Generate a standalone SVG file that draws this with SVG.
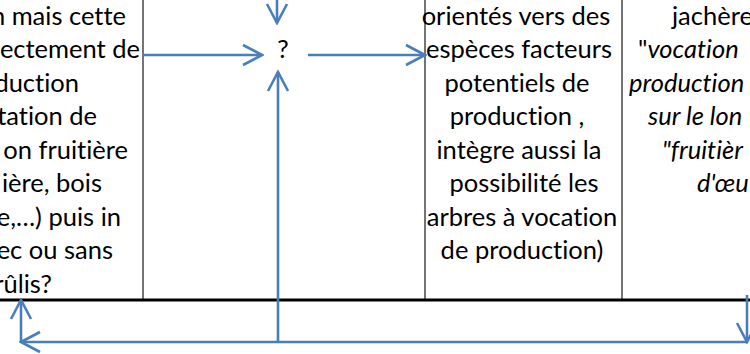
<svg xmlns="http://www.w3.org/2000/svg" width="750" height="354" viewBox="0 0 750 354">
<style>
.t{font-family:Lato,"Liberation Sans",sans-serif;font-size:25.5px;fill:#000;font-variant-ligatures:none;font-feature-settings:"liga" 0}
.i{font-style:italic}
.grid{stroke:#3a3a3a;stroke-width:1.4;fill:none}
.base{stroke:#000;stroke-width:2.8;fill:none}
.c{stroke:#4A7EBB;stroke-width:2.6;fill:none}
</style>
<defs>
<marker id="ah" viewBox="-22 -12 24 24" markerWidth="24" markerHeight="24" refX="0" refY="0" orient="auto" markerUnits="userSpaceOnUse">
<path d="M-19,-10 L0,0 L-19,10" fill="none" stroke="#4A7EBB" stroke-width="2.6"/>
</marker>
</defs>
<rect width="750" height="354" fill="#fff"/>
<g id="table">
<line class="grid" x1="143" y1="0" x2="143" y2="300"/>
<line class="grid" x1="425" y1="0" x2="425" y2="300"/>
<line class="grid" x1="622" y1="0" x2="622" y2="300"/>
<line class="base" x1="0" y1="300" x2="750" y2="300"/>
</g>
<g id="cell-left" class="t" text-anchor="end">
<text x="126" y="25">n mais cette</text>
<text x="140" y="58">ectement de</text>
<text x="79" y="92">duction</text>
<text x="97" y="125">tation de</text>
<text x="128" y="159">on fruitière</text>
<text x="102" y="192">ière, bois</text>
<text x="121" y="226">e,…) puis in</text>
<text x="113" y="259">ec ou sans</text>
<text x="52" y="293">rûlis?</text>
</g>
<g id="node-question">
<text class="t" x="283" y="58" text-anchor="middle">?</text>
</g>
<g id="cell-middle" class="t" text-anchor="middle">
<text x="516" y="25">orientés vers des</text>
<text x="519" y="58">espèces facteurs</text>
<text x="517" y="92">potentiels de</text>
<text x="517" y="125">production ,</text>
<text x="519" y="159">intègre aussi la</text>
<text x="524" y="192">possibilité les</text>
<text x="522" y="226">arbres à vocation</text>
<text x="522" y="259">de production)</text>
</g>
<g id="cell-right" class="t">
<text x="672" y="25">jachère</text>
<text x="638" y="58">"<tspan class="i">vocation</tspan></text>
<text x="629" y="92" class="i">production</text>
<text x="648" y="125" class="i">sur le lon</text>
<text x="662" y="159" class="i">"fruitièr</text>
<text x="697" y="192" class="i">d'œu</text>
</g>
<g id="connectors">
<line class="c" x1="277" y1="-2" x2="277" y2="23" marker-end="url(#ah)"/>
<line class="c" x1="143" y1="55" x2="262" y2="55" marker-end="url(#ah)"/>
<line class="c" x1="308" y1="55" x2="425" y2="55" marker-end="url(#ah)"/>
<line class="c" x1="278" y1="342" x2="278" y2="72" marker-end="url(#ah)"/>
<line class="c" x1="747" y1="295" x2="747" y2="342" marker-end="url(#ah)"/>
<line class="c" x1="747" y1="342" x2="21" y2="342" marker-end="url(#ah)"/>
<line class="c" x1="21" y1="342" x2="21" y2="300" marker-end="url(#ah)"/>
</g>
</svg>
